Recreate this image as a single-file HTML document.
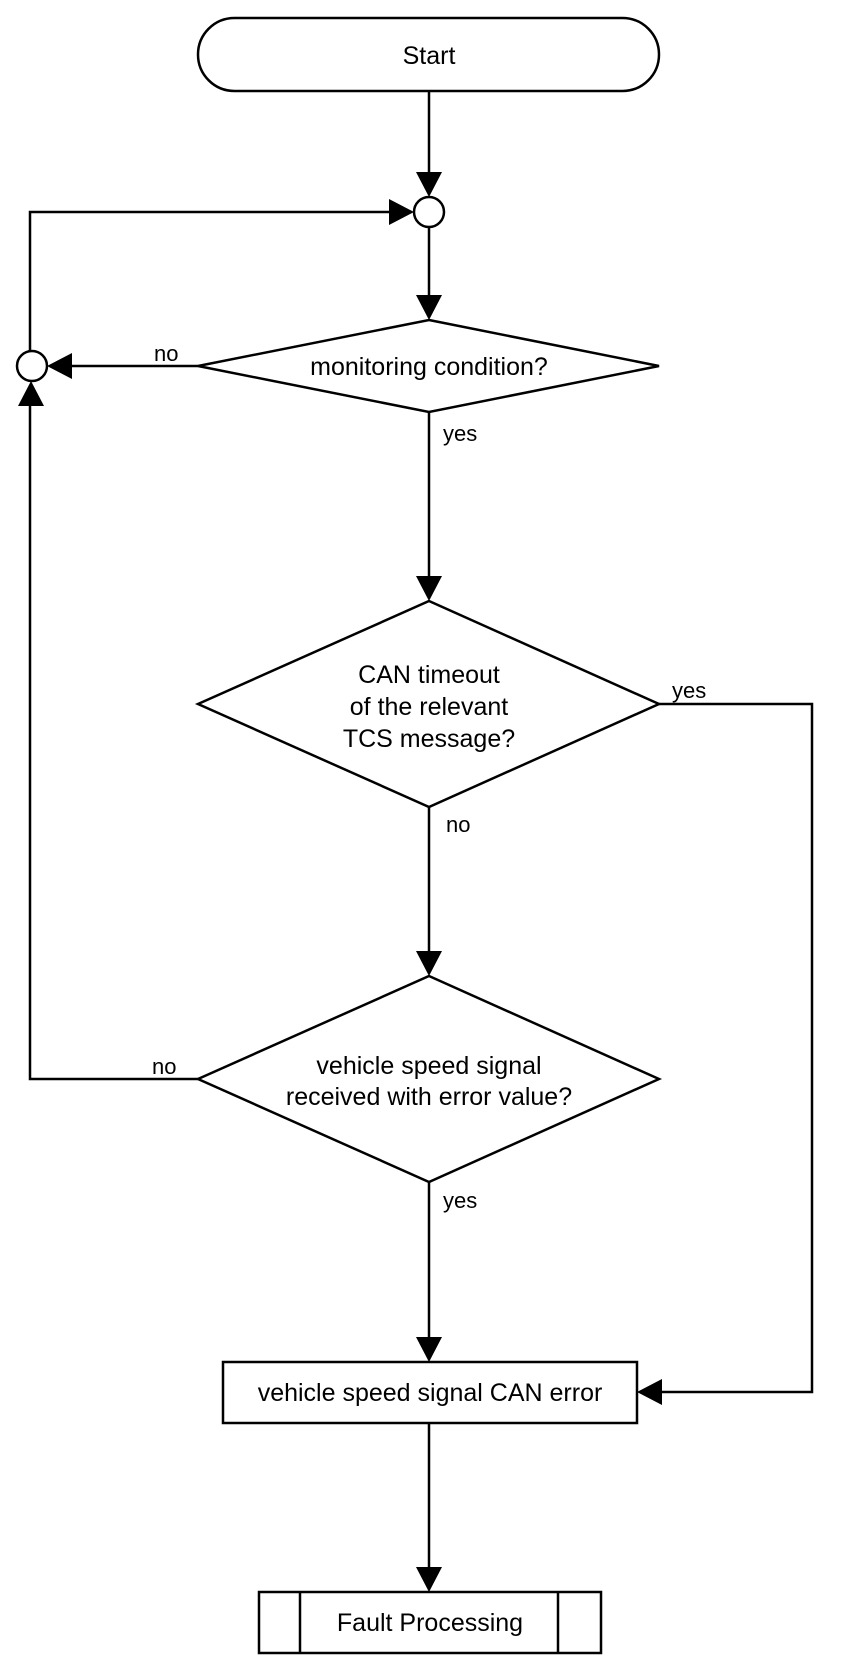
<!DOCTYPE html>
<html><head><meta charset="utf-8"><style>
html,body{margin:0;padding:0;background:#fff;}
svg{display:block;}
text{font-family:"Liberation Sans",Arial,sans-serif;fill:#000;}
</style></head><body>
<svg width="864" height="1670" viewBox="0 0 864 1670" xmlns="http://www.w3.org/2000/svg">
<defs>
<marker id="a" viewBox="0 0 10 10" refX="10" refY="5" markerWidth="10" markerHeight="10" markerUnits="userSpaceOnUse" orient="auto">
</marker>
</defs>
<g fill="none" stroke="#000" stroke-width="2.5">
<!-- Start -->
<rect x="198" y="18" width="461" height="73" rx="36.5" ry="36.5"/>
<!-- circles -->
<circle cx="429" cy="212" r="15"/>
<circle cx="32" cy="366" r="15"/>
<!-- diamonds -->
<polygon points="429,320 659,366 429,412 198,366"/>
<polygon points="429,601 659,704 429,807 198,704"/>
<polygon points="429,976 659,1079 429,1182 198,1079"/>
<!-- rect -->
<rect x="223" y="1362" width="414" height="61"/>
<!-- fault -->
<rect x="259" y="1592" width="342" height="61"/>
<line x1="300" y1="1592" x2="300" y2="1653"/>
<line x1="558" y1="1592" x2="558" y2="1653"/>
<!-- connectors -->
<line x1="429" y1="91" x2="429" y2="175"/>
<line x1="429" y1="227" x2="429" y2="298"/>
<line x1="198" y1="366" x2="70" y2="366"/>
<polyline points="30,351 30,212 390,212"/>
<line x1="429" y1="412" x2="429" y2="580"/>
<polyline points="659,704 812,704 812,1392 660,1392"/>
<line x1="429" y1="807" x2="429" y2="955"/>
<polyline points="198,1079 30,1079 30,405"/>
<line x1="429" y1="1182" x2="429" y2="1340"/>
<line x1="429" y1="1423" x2="429" y2="1570"/>
</g>
<g fill="#000">
<polygon points="416,172 442,172 429,197"/>
<polygon points="389,199 389,225 414,212"/>
<polygon points="416,295 442,295 429,320"/>
<polygon points="72,353 72,379 47,366"/>
<polygon points="18,406 44,406 31,381"/>
<polygon points="416,576 442,576 429,601"/>
<polygon points="416,951 442,951 429,976"/>
<polygon points="416,1337 442,1337 429,1362"/>
<polygon points="662,1379 662,1405 637,1392"/>
<polygon points="416,1567 442,1567 429,1592"/>
</g>
<g font-size="25" text-anchor="middle">
<text x="429" y="64">Start</text>
<text x="429" y="375">monitoring condition?</text>
<text x="429" y="683">CAN timeout</text>
<text x="429" y="715">of the relevant</text>
<text x="429" y="747">TCS message?</text>
<text x="429" y="1074">vehicle speed signal</text>
<text x="429" y="1105">received with error value?</text>
<text x="430" y="1401">vehicle speed signal CAN error</text>
<text x="430" y="1631">Fault Processing</text>
</g>
<g font-size="22">
<text x="154" y="361">no</text>
<text x="443" y="441">yes</text>
<text x="672" y="698">yes</text>
<text x="446" y="832">no</text>
<text x="152" y="1074">no</text>
<text x="443" y="1208">yes</text>
</g>
</svg>
</body></html>
